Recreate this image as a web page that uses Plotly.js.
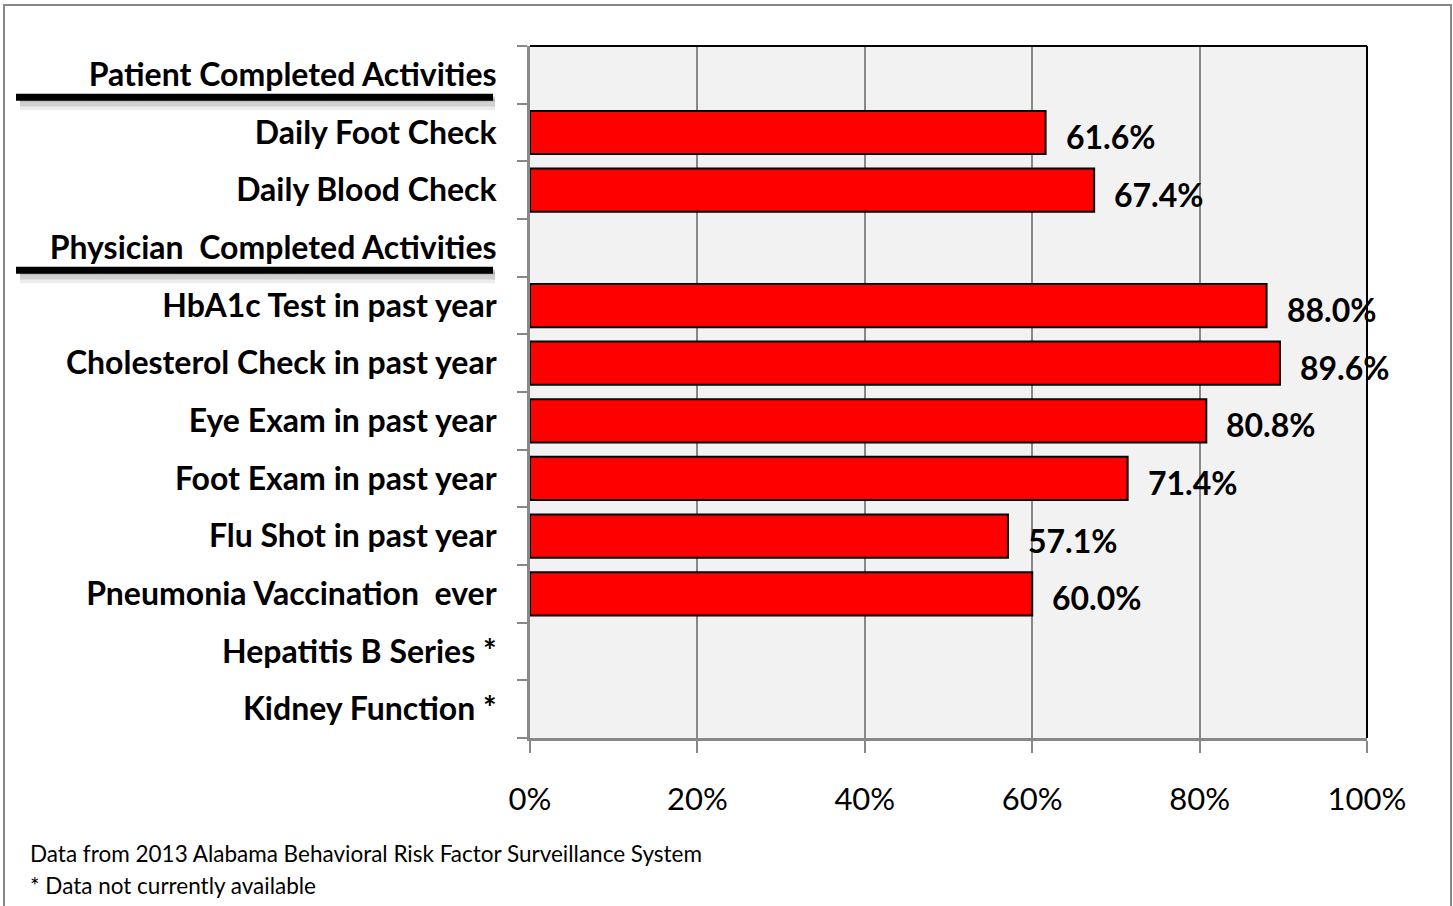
<!DOCTYPE html>
<html>
<head>
<meta charset="utf-8">
<script src="https://cdn.plot.ly/plotly-3.0.1.min.js"></script>
<style>
html,body{margin:0;padding:0;background:#fff;}
#chart{width:1453px;height:906px;}
</style>
</head>
<body>
<div id="chart"></div>
<script>
const categories = [
  "Patient Completed Activities",
  "Daily Foot Check",
  "Daily Blood Check",
  "Physician  Completed Activities",
  "HbA1c Test in past year",
  "Cholesterol Check in past year",
  "Eye Exam in past year",
  "Foot Exam in past year",
  "Flu Shot in past year",
  "Pneumonia Vaccination  ever",
  "Hepatitis B Series *",
  "Kidney Function *"
];
const values = [null, 61.6, 67.4, null, 88.0, 89.6, 80.8, 71.4, 57.1, 60.0, null, null];
const headerIdx = [0, 3];
const xTickVals = [0, 20, 40, 60, 80, 100];
const xTickText = ["0%", "20%", "40%", "60%", "80%", "100%"];
const footnotes = [
  "Data from 2013 Alabama Behavioral Risk Factor Surveillance System",
  "* Data not currently available"
];

const FONT = "Lato, 'Liberation Sans', sans-serif";

const trace = {
  type: 'bar',
  orientation: 'h',
  y: categories,
  x: values,
  width: 0.75,
  marker: {color: '#ff0000', line: {color: '#000000', width: 2}},
  hoverinfo: 'skip'
};

const annotations = [];
categories.forEach((c, i) => {
  if (values[i] !== null) {
    annotations.push({
      x: values[i], y: c, xref: 'x', yref: 'y',
      text: '<b>' + values[i].toFixed(1) + '%</b>',
      showarrow: false, xanchor: 'left', yanchor: 'middle',
      xshift: 18, yshift: -4,
      font: {family: FONT, size: 32, color: '#000'}
    });
  }
});
footnotes.forEach((t, i) => {
  annotations.push({
    x: (28 - 530) / 837, y: (738 - 853 - i * 32) / 692,
    xref: 'paper', yref: 'paper', text: t, showarrow: false,
    xanchor: 'left', yanchor: 'middle',
    font: {family: FONT, size: 22.5, color: '#000'}
  });
});

const shapes = [];
// section header underlines with soft shadow
headerIdx.forEach(i => {
  [[0.62, 'rgba(0,0,0,0.07)', 11], [0.58, 'rgba(0,0,0,0.12)', 8], [0.52, 'rgba(0,0,0,0.18)', 5]].forEach(s => {
    shapes.push({type: 'line', xref: 'paper', yref: 'y', x0: (20 - 530) / 837, x1: (495 - 530) / 837,
      y0: i + s[0] - 0.1, y1: i + s[0] - 0.1, line: {color: s[1], width: s[2]}, layer: 'above'});
  });
  shapes.push({type: 'line', xref: 'paper', yref: 'y', x0: (16 - 530) / 837, x1: (493 - 530) / 837,
    y0: i + 0.39, y1: i + 0.39, line: {color: '#000', width: 7}, layer: 'above'});
});
// black top and right border of plot area
shapes.push({type: 'line', xref: 'paper', yref: 'paper', x0: 0, x1: 1, y0: 1, y1: 1, line: {color: '#000', width: 2}});
shapes.push({type: 'line', xref: 'paper', yref: 'paper', x0: 1, x1: 1, y0: 0, y1: 1, line: {color: '#000', width: 2}});
// outer gray frame
shapes.push({type: 'rect', xref: 'paper', yref: 'paper', x0: (4 - 530) / 837, x1: (1451 - 530) / 837,
  y0: (738 - 930) / 692, y1: (738 - 5) / 692, line: {color: '#888888', width: 2}, fillcolor: 'rgba(0,0,0,0)'});

const layout = {
  width: 1453, height: 906,
  margin: {l: 530, r: 86, t: 46, b: 168, pad: 0},
  paper_bgcolor: '#ffffff',
  plot_bgcolor: '#f2f2f2',
  showlegend: false,
  bargap: 0.25,
  xaxis: {
    range: [0, 100], tickvals: xTickVals, ticktext: xTickText,
    showgrid: true, gridcolor: '#888888', gridwidth: 2,
    showline: true, linecolor: '#888888', linewidth: 3,
    ticks: 'outside', ticklen: 12, tickwidth: 2, tickcolor: '#888888',
    ticklabelstandoff: 20,
    zeroline: false, fixedrange: true,
    tickfont: {family: FONT, size: 31, color: '#000'}
  },
  yaxis: {
    type: 'category', autorange: 'reversed',
    categoryorder: 'array', categoryarray: categories,
    tickvals: categories,
    ticktext: categories.map(c => '<b>' + c + '</b>'),
    tickson: 'boundaries',
    showgrid: false,
    showline: true, linecolor: '#888888', linewidth: 3,
    ticks: 'outside', ticklen: 10, tickwidth: 2, tickcolor: '#888888',
    ticklabelstandoff: 24,
    zeroline: false, fixedrange: true,
    tickfont: {family: FONT, size: 32, color: '#000'}
  },
  annotations: annotations,
  shapes: shapes
};

Plotly.newPlot('chart', [trace], layout, {displayModeBar: false, staticPlot: true});
</script>
</body>
</html>
